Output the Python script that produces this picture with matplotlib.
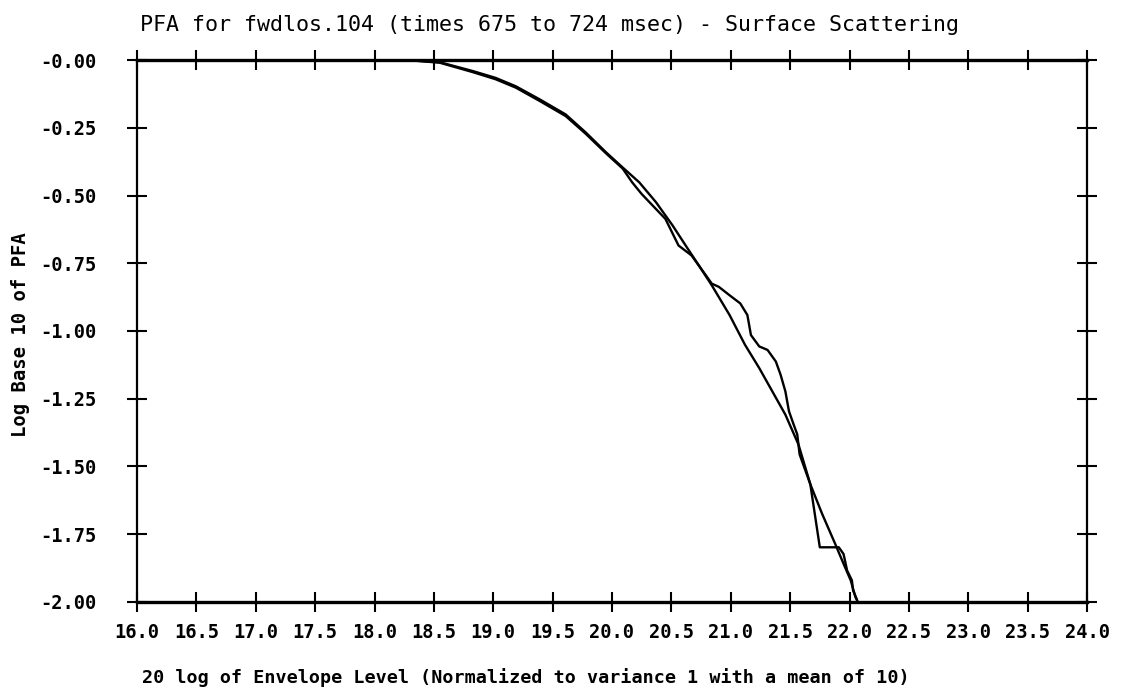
import matplotlib
matplotlib.use("Agg")
import matplotlib.pyplot as plt

# Theoretical (smooth) curve: 20 log envelope level vs log10 PFA
theory_x = [16.0, 18.3, 18.55, 18.83, 19.02, 19.19, 19.39, 19.61, 19.78, 19.95, 20.09,
            20.23, 20.37, 20.51, 20.62, 20.73, 20.84, 20.99, 21.12, 21.24, 21.35,
            21.46, 21.57, 21.67, 21.77, 21.88, 21.95, 22.01, 22.05, 22.07]
theory_y = [0.0, 0.0, -0.007, -0.040, -0.065, -0.096, -0.144, -0.200, -0.267, -0.340, -0.396,
            -0.451, -0.524, -0.610, -0.684, -0.757, -0.831, -0.941, -1.051, -1.137, -1.223,
            -1.309, -1.419, -1.566, -1.676, -1.787, -1.860, -1.921, -1.983, -2.0]

# Measured PFA for fwdlos.104, 675-724 msec
meas_x = [16.0, 18.3, 18.55, 18.83, 19.02, 19.19, 19.39, 19.61, 19.78, 19.95, 20.09,
          20.17, 20.25, 20.45, 20.56, 20.67, 20.79, 20.84, 20.90, 20.99, 21.08, 21.14,
          21.17, 21.24, 21.31, 21.38, 21.42, 21.46, 21.49, 21.53, 21.56, 21.58, 21.67,
          21.75, 21.91, 21.95, 21.98, 22.02, 22.03, 22.06]
meas_y = [0.0, 0.0, -0.009, -0.044, -0.070, -0.101, -0.150, -0.206, -0.272, -0.344, -0.400,
          -0.451, -0.494, -0.586, -0.684, -0.721, -0.794, -0.825, -0.837, -0.868, -0.898, -0.941,
          -1.015, -1.057, -1.070, -1.113, -1.162, -1.223, -1.296, -1.346, -1.382, -1.456, -1.566,
          -1.799, -1.799, -1.824, -1.885, -1.921, -1.958, -1.99]

x_ticks = [16.0 + 0.5 * i for i in range(17)]
y_ticks = [0.0, -0.25, -0.5, -0.75, -1.0, -1.25, -1.5, -1.75, -2.0]
y_tick_labels = ["-0.00", "-0.25", "-0.50", "-0.75", "-1.00", "-1.25", "-1.50", "-1.75", "-2.00"]

TITLE = "PFA for fwdlos.104 (times 675 to 724 msec) - Surface Scattering"
XLABEL = "20 log of Envelope Level (Normalized to variance 1 with a mean of 10)"
YLABEL = "Log Base 10 of PFA"

MONO = "DejaVu Sans Mono"

W, H = 1124, 700
fig = plt.figure(figsize=(W / 100, H / 100), dpi=100)
ax = fig.add_axes([137 / W, 1 - 601.7 / H, (1087 - 137) / W, (601.7 - 60.3) / H])

ax.plot(theory_x, theory_y, color="black", lw=1.7, solid_joinstyle="round")
ax.plot(meas_x, meas_y, color="black", lw=1.7, solid_joinstyle="round")

ax.set_xlim(16.0, 24.0)
ax.set_ylim(-2.0, 0.0)
for side, s in ax.spines.items():
    s.set_linewidth(2.4 if side in ("top", "bottom") else 1.6)

ax.set_xticks(x_ticks)
ax.set_xticklabels([f"{v:.1f}" for v in x_ticks])
ax.set_yticks(y_ticks)
ax.set_yticklabels(y_tick_labels)
ax.tick_params(axis="both", which="major", direction="inout", length=14, width=1.5,
               top=True, right=True)
ax.tick_params(axis="x", pad=8)
ax.tick_params(axis="y", pad=22)
for lbl in ax.get_xticklabels() + ax.get_yticklabels():
    lbl.set_fontfamily(MONO)
    lbl.set_fontweight("bold")
    lbl.set_fontsize(13.5)

fig.text(140 / W, 1 - 25 / H, TITLE, ha="left", va="center", fontsize=15.6,
         family=MONO)
fig.text(526 / W, 1 - 678 / H, XLABEL, ha="center", va="center", fontsize=13.2,
         fontweight="bold", family=MONO)
fig.text(21 / W, 1 - 335 / H, YLABEL, ha="center", va="center", rotation=90,
         fontsize=13.6, fontweight="bold", family=MONO)

fig.savefig("out.png", dpi=100)
